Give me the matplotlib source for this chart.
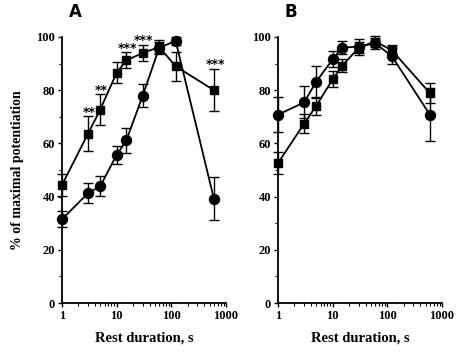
import matplotlib
matplotlib.use("Agg")
import matplotlib.pyplot as plt
from matplotlib.ticker import FixedLocator, LogLocator, NullFormatter, MultipleLocator
import numpy as np

# rest durations (s)
rest = [1, 3, 5, 10, 15, 30, 60, 120, 600]

# panel A
a_sq = [44.4, 63.7, 72.7, 86.6, 91.2, 94.0, 96.2, 89.0, 80.0]
a_sq_err = [4.0, 6.5, 5.7, 4.0, 3.0, 3.0, 2.5, 5.5, 8.0]
a_ci = [31.5, 41.3, 43.9, 55.7, 61.1, 78.0, 96.0, 98.5, 39.2]
a_ci_err = [3.0, 3.7, 3.8, 3.5, 4.7, 4.5, 2.0, 1.5, 8.0]
a_stars_x = [3, 5, 15, 30, 600]
a_stars = ["**", "**", "***", "***", "***"]

# panel B
b_sq = [52.6, 67.4, 74.1, 84.1, 89.2, 96.0, 98.3, 95.1, 78.9]
b_sq_err = [4.0, 3.5, 3.5, 3.0, 2.5, 2.0, 2.0, 2.0, 3.7]
b_ci = [70.8, 75.4, 83.2, 91.6, 96.0, 96.4, 97.6, 92.9, 70.8]
b_ci_err = [6.5, 6.0, 6.0, 3.0, 2.5, 3.0, 2.0, 3.0, 10.0]

serif = "Liberation Serif"

fig = plt.figure(figsize=(4.57, 3.52), dpi=100)
axA = fig.add_axes([0.1357, 0.1392, 0.3589, 0.7557])
axB = fig.add_axes([0.6083, 0.1392, 0.3589, 0.7557])


def draw(ax, sq, sq_err, ci, ci_err, letter):
    ax.errorbar(rest, sq, yerr=sq_err, color="black", lw=1.3, marker="s", ms=6.2,
                capsize=3.5, elinewidth=1.0, capthick=1.0, clip_on=False, zorder=3)
    ax.errorbar(rest, ci, yerr=ci_err, color="black", lw=1.3, marker="o", ms=7.2,
                capsize=3.5, elinewidth=1.0, capthick=1.0, clip_on=False, zorder=3)
    ax.set_xscale("log")
    ax.set_xlim(1, 1000)
    ax.set_ylim(0, 100)
    for s in ["top", "right"]:
        ax.spines[s].set_visible(False)
    ax.spines["left"].set_linewidth(1.3)
    ax.spines["bottom"].set_linewidth(1.3)
    ax.xaxis.set_major_locator(FixedLocator([1, 10, 100, 1000]))
    ax.set_xticklabels(["1", "10", "100", "1000"])
    ax.xaxis.set_minor_locator(LogLocator(base=10, subs=np.arange(2, 10)))
    ax.xaxis.set_minor_formatter(NullFormatter())
    ax.yaxis.set_major_locator(MultipleLocator(20))
    ax.yaxis.set_minor_locator(MultipleLocator(10))
    ax.tick_params(which="major", length=3, width=1, direction="out", pad=2)
    ax.tick_params(which="minor", length=2, width=0.8, direction="out")
    for lab in ax.get_xticklabels() + ax.get_yticklabels():
        lab.set_fontfamily(serif)
        lab.set_fontweight("bold")
        lab.set_fontsize(9)
    ax.set_xlabel("Rest duration, s", fontfamily=serif, fontweight="bold", fontsize=10.5, labelpad=7)
    ax.text(0.08, 1.06, letter, transform=ax.transAxes, fontsize=12, fontweight="bold",
            fontfamily="DejaVu Sans", ha="center", va="bottom")


draw(axA, a_sq, a_sq_err, a_ci, a_ci_err, "A")
draw(axB, b_sq, b_sq_err, b_ci, b_ci_err, "B")

axA.set_ylabel("% of maximal potentiation", fontfamily=serif, fontweight="bold", fontsize=10, labelpad=9)

for xs, lab in zip(a_stars_x, a_stars):
    i = rest.index(xs)
    axA.text(xs * 1.05, a_sq[i] + a_sq_err[i] + 1.5, lab, ha="center", va="center",
             fontsize=9, fontweight="bold", fontfamily="DejaVu Sans")

fig.savefig("out.png", dpi=100)
